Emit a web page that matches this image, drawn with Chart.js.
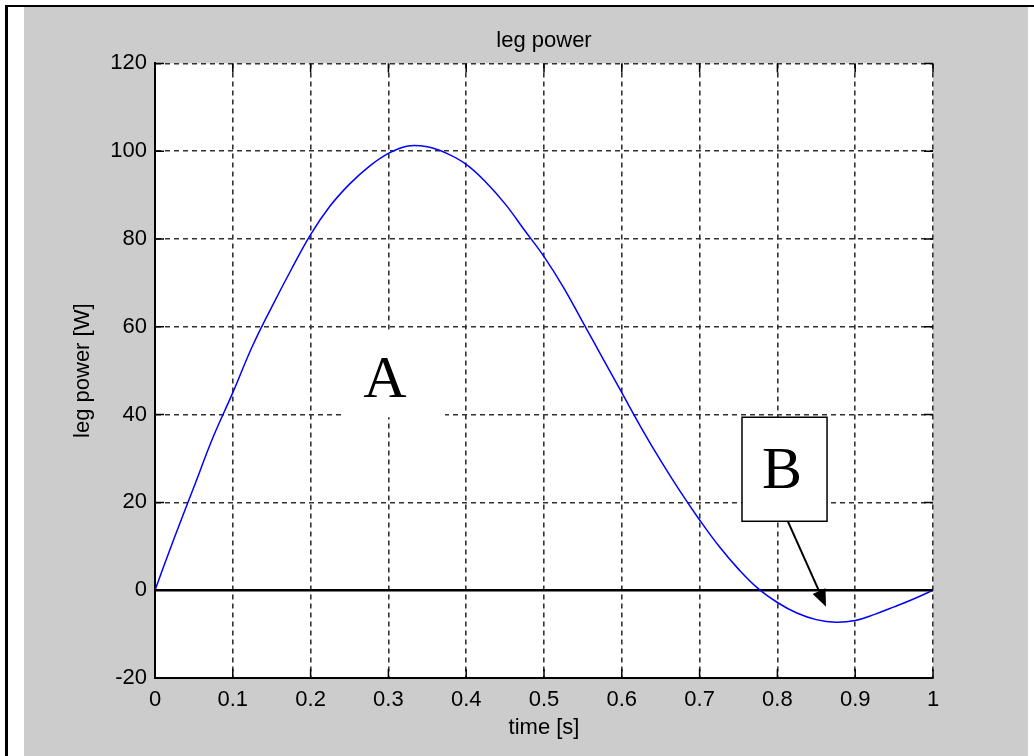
<!DOCTYPE html>
<html>
<head>
<meta charset="utf-8">
<title>leg power</title>
<script src="https://cdn.jsdelivr.net/npm/chart.js@4.4.1/dist/chart.umd.min.js"></script>
<style>
    html, body { margin: 0; padding: 0; background: #fff; }
    body { width: 1034px; height: 756px; position: relative; overflow: hidden; }
    .frame { position: absolute; left: 5px; top: 5px; right: 0; bottom: 0; border-left: 3px solid #000; border-top: 2px solid #000; }
    .figure { position: absolute; left: 24px; top: 7px; width: 1004px; height: 749px; background: #cccccc; }
    canvas { display: block; }
</style>
</head>
<body>
<div class="frame"></div>
<div class="figure"><canvas id="legPowerChart" width="1004" height="749"></canvas></div>
<script>
// Значения
const TIME_VALUES = [
    0, 0.025, 0.05, 0.075, 0.1, 0.125, 0.15, 0.175, 0.2, 0.225,
    0.25, 0.275, 0.3, 0.325, 0.35, 0.375, 0.4, 0.425, 0.45, 0.475,
    0.5, 0.525, 0.55, 0.575, 0.6, 0.625, 0.65, 0.675, 0.7, 0.725,
    0.75, 0.775, 0.8, 0.825, 0.85, 0.875, 0.9, 0.925, 0.95, 0.975, 1,
];
const POWER_VALUES = [
    0, 12, 23.5, 35, 45, 55.5, 64.5, 73, 81, 87.5,
    92.5, 96.5, 99.5, 101.2, 101, 99.5, 97, 93, 88, 82,
    76, 69, 61, 53, 45, 37, 29.5, 22.5, 16, 10,
    4.8, 0.4, -2.8, -5.2, -6.7, -7.3, -6.9, -5.5, -3.8, -2, 0,
];
const ZERO_LINE_TIME = [0, 1];
const ZERO_LINE_POWER = [0, 0];

const X_TICKS = [0, 0.1, 0.2, 0.3, 0.4, 0.5, 0.6, 0.7, 0.8, 0.9, 1];
const Y_TICKS = [-20, 0, 20, 40, 60, 80, 100, 120];

const AXIS_FONT = {family: '"Liberation Sans", Arial, sans-serif', size: 22};
const LABEL_FONT = '60px "Liberation Serif", "Times New Roman", serif';
const TICK_LENGTH = 9;

function toPoints(xs, ys) {
    return xs.map((x, i) => ({x: x, y: ys[i]}));
}

function formatTick(value) {
    return String(Number(value.toFixed(1)));
}

// Белое поле графика
const plotBackground = {
    id: 'plotBackground',
    beforeDraw(chart) {
        const {ctx, chartArea} = chart;
        ctx.save();
        ctx.fillStyle = '#ffffff';
        ctx.fillRect(chartArea.left, chartArea.top, chartArea.right - chartArea.left, chartArea.bottom - chartArea.top);
        ctx.restore();
    },
};

// Засечки внутрь поля по всем четырём сторонам, как в MATLAB
const innerTicks = {
    id: 'innerTicks',
    afterDatasetsDraw(chart) {
        const {ctx, chartArea, scales} = chart;
        ctx.save();
        ctx.strokeStyle = '#000';
        ctx.lineWidth = 1.5;
        ctx.beginPath();
        X_TICKS.forEach((v) => {
            const px = scales.x.getPixelForValue(v);
            ctx.moveTo(px, chartArea.bottom);
            ctx.lineTo(px, chartArea.bottom - TICK_LENGTH);
            ctx.moveTo(px, chartArea.top);
            ctx.lineTo(px, chartArea.top + TICK_LENGTH);
        });
        Y_TICKS.forEach((v) => {
            const py = scales.y.getPixelForValue(v);
            ctx.moveTo(chartArea.left, py);
            ctx.lineTo(chartArea.left + TICK_LENGTH, py);
            ctx.moveTo(chartArea.right, py);
            ctx.lineTo(chartArea.right - TICK_LENGTH, py);
        });
        ctx.stroke();
        ctx.restore();
    },
};

// Подписи A и B (в координатах данных)
const annotations = {
    id: 'annotations',
    beforeDatasetsDraw(chart) {
        const {ctx, scales} = chart;
        const x1 = scales.x.getPixelForValue(0.2416);
        const x2 = scales.x.getPixelForValue(0.3728);
        const y1 = scales.y.getPixelForValue(59.3);
        const y2 = scales.y.getPixelForValue(39.4);
        ctx.save();
        ctx.fillStyle = '#ffffff';
        ctx.fillRect(x1, y1, x2 - x1, y2 - y1);
        ctx.restore();
    },
    afterDatasetsDraw(chart) {
        const {ctx, scales} = chart;
        const sx = (v) => scales.x.getPixelForValue(v);
        const sy = (v) => scales.y.getPixelForValue(v);

        ctx.save();
        ctx.font = LABEL_FONT;
        ctx.fillStyle = '#000';
        ctx.textAlign = 'center';
        ctx.textBaseline = 'alphabetic';
        ctx.fillText('A', sx(0.2956), sy(44));

        // рамка B
        const bx1 = sx(0.7545);
        const bx2 = sx(0.8638);
        const by1 = sy(39.4);
        const by2 = sy(15.7);
        ctx.fillStyle = '#ffffff';
        ctx.fillRect(bx1, by1, bx2 - bx1, by2 - by1);
        ctx.strokeStyle = '#000';
        ctx.lineWidth = 1.5;
        ctx.strokeRect(bx1, by1, bx2 - bx1, by2 - by1);
        ctx.fillStyle = '#000';
        ctx.fillText('B', sx(0.8059), sy(23.2));

        // стрелка от рамки к минимуму
        const ax = sx(0.8136);
        const ay = sy(15.6);
        const tx = sx(0.8625);
        const ty = sy(-3.76);
        const angle = Math.atan2(ty - ay, tx - ax);
        const headLen = 17;
        const headHalf = 7;
        const bx = tx - headLen * Math.cos(angle);
        const byy = ty - headLen * Math.sin(angle);
        ctx.lineWidth = 2;
        ctx.beginPath();
        ctx.moveTo(ax, ay);
        ctx.lineTo(bx, byy);
        ctx.stroke();
        ctx.beginPath();
        ctx.moveTo(tx, ty);
        ctx.lineTo(bx + headHalf * Math.sin(angle), byy - headHalf * Math.cos(angle));
        ctx.lineTo(bx - headHalf * Math.sin(angle), byy + headHalf * Math.cos(angle));
        ctx.closePath();
        ctx.fill();
        ctx.restore();
    },
};

const gridStyle = {
    color: '#333333',
    lineWidth: 1.6,
    drawTicks: false,
};
const borderStyle = {
    display: true,
    color: '#000000',
    width: 2,
    dash: [5, 4],
};

function loadLegPowerChart() {
    const canvas = document.getElementById('legPowerChart');
    if (!canvas) {
        return;
    }

    new Chart(canvas.getContext('2d'), {
        type: 'line',
        data: {
            datasets: [
                {
                    label: 'leg power',
                    data: toPoints(TIME_VALUES, POWER_VALUES),
                    borderColor: '#0000ff',
                    borderWidth: 1.5,
                    pointRadius: 0,
                    tension: 0.4,
                    fill: false,
                },
                {
                    label: 'zero',
                    data: toPoints(ZERO_LINE_TIME, ZERO_LINE_POWER),
                    borderColor: '#000000',
                    borderWidth: 2.5,
                    pointRadius: 0,
                    fill: false,
                },
            ],
        },
        options: {
            responsive: false,
            animation: false,
            events: [],
            layout: {padding: {left: 0, right: 95, top: 0, bottom: 0}},
            plugins: {
                legend: {display: false},
                tooltip: {enabled: false},
                title: {
                    display: true,
                    fullSize: false,
                    text: 'leg power',
                    color: '#000',
                    font: {...AXIS_FONT, weight: 'normal'},
                    padding: {top: 21, bottom: 9},
                },
            },
            scales: {
                x: {
                    type: 'linear',
                    min: 0,
                    max: 1,
                    afterBuildTicks: (scale) => {
                        scale.ticks = X_TICKS.map((v) => ({value: v}));
                    },
                    afterFit: (scale) => {
                        scale.height = 78;
                    },
                    ticks: {
                        color: '#000',
                        font: AXIS_FONT,
                        padding: 9,
                        maxRotation: 0,
                        autoSkip: false,
                        callback: formatTick,
                    },
                    grid: gridStyle,
                    border: borderStyle,
                    title: {
                        display: true,
                        text: 'time [s]',
                        color: '#000',
                        font: AXIS_FONT,
                        padding: {top: 0, bottom: 15},
                    },
                },
                y: {
                    type: 'linear',
                    min: -20,
                    max: 120,
                    afterBuildTicks: (scale) => {
                        scale.ticks = Y_TICKS.map((v) => ({value: v}));
                    },
                    afterFit: (scale) => {
                        scale.width = 131;
                    },
                    ticks: {
                        color: '#000',
                        font: AXIS_FONT,
                        padding: 8,
                        autoSkip: false,
                        callback: formatTick,
                    },
                    grid: gridStyle,
                    border: borderStyle,
                    title: {
                        display: true,
                        text: 'leg power [W]',
                        color: '#000',
                        font: AXIS_FONT,
                        padding: {top: 46, bottom: 0},
                    },
                },
            },
        },
        plugins: [plotBackground, innerTicks, annotations],
    });
}

if (document.readyState === 'loading') {
    document.addEventListener('DOMContentLoaded', loadLegPowerChart);
} else {
    loadLegPowerChart();
}
</script>
</body>
</html>
